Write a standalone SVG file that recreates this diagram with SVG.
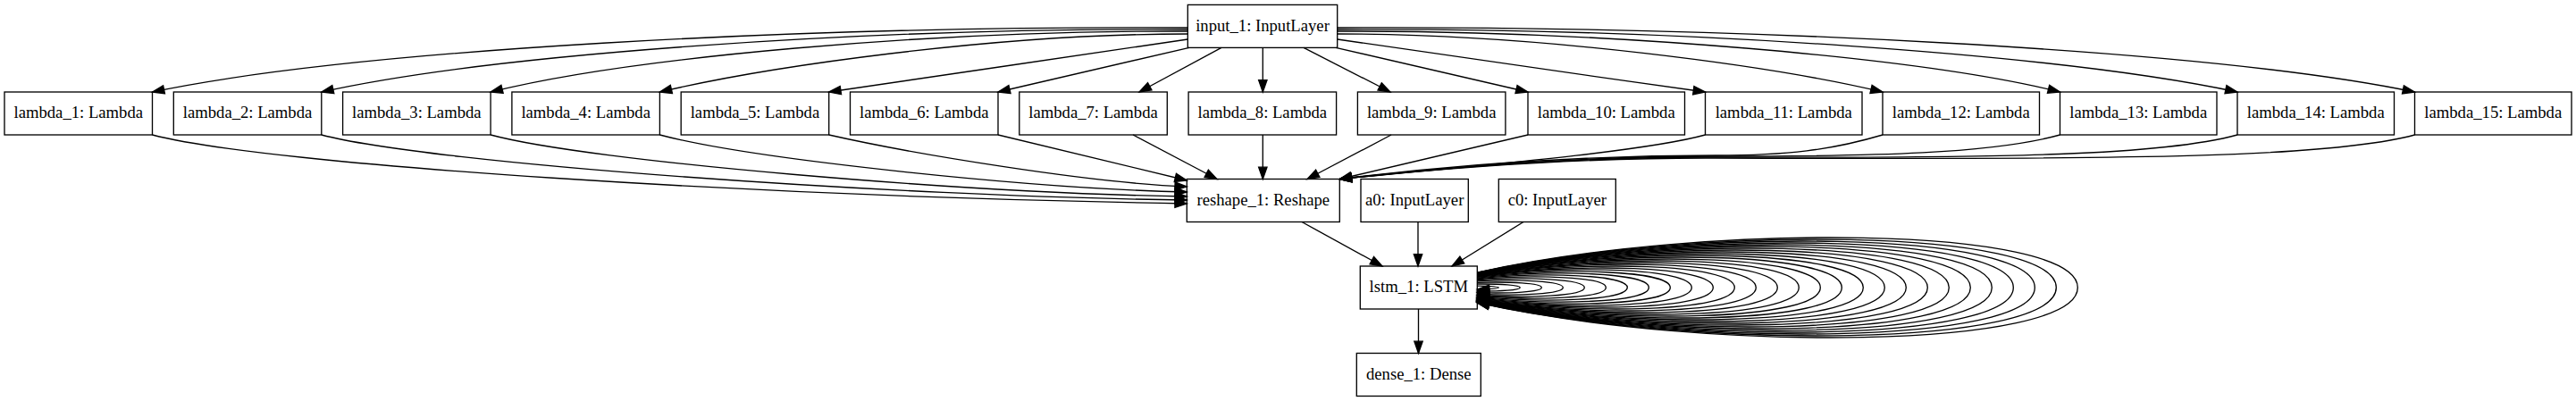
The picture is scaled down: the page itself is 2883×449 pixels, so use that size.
<svg xmlns="http://www.w3.org/2000/svg" width="2883" height="449" viewBox="0 0 2883 449">
<style>
.n rect{fill:#fff;stroke:#000;stroke-width:1.33}
.n text{font-family:"Liberation Serif","Times New Roman",serif;font-size:18.67px;text-anchor:middle;fill:#000}
.e path{fill:none;stroke:#000;stroke-width:1.33;marker-end:url(#a)}
</style>
<defs>
<marker id="a" viewBox="-1 -1 15.33 11.33" refX="13.33" refY="4.67" markerWidth="15.33" markerHeight="11.33" markerUnits="userSpaceOnUse" orient="auto" overflow="visible"><path d="M0,0 L13.33,4.67 L0,9.33 Z" fill="#000" stroke="#000" stroke-width="1.33"/></marker>
</defs>
<rect x="0" y="0" width="2883" height="449" fill="#fff"/>
<g id="nodes">
<g id="input_1" class="n"><rect x="1329.3" y="5.4" width="167.4" height="48"/><text x="1413" y="34.5">input_1: InputLayer</text></g>
<g id="lambda_1" class="n"><rect x="5" y="103" width="165.5" height="48"/><text x="87.75" y="132.1">lambda_1: Lambda</text></g>
<g id="lambda_2" class="n"><rect x="194.3" y="103" width="165.5" height="48"/><text x="277.05" y="132.1">lambda_2: Lambda</text></g>
<g id="lambda_3" class="n"><rect x="383.6" y="103" width="165.5" height="48"/><text x="466.35" y="132.1">lambda_3: Lambda</text></g>
<g id="lambda_4" class="n"><rect x="572.9" y="103" width="165.5" height="48"/><text x="655.65" y="132.1">lambda_4: Lambda</text></g>
<g id="lambda_5" class="n"><rect x="762.2" y="103" width="165.5" height="48"/><text x="844.95" y="132.1">lambda_5: Lambda</text></g>
<g id="lambda_6" class="n"><rect x="951.5" y="103" width="165.5" height="48"/><text x="1034.25" y="132.1">lambda_6: Lambda</text></g>
<g id="lambda_7" class="n"><rect x="1140.8" y="103" width="165.5" height="48"/><text x="1223.55" y="132.1">lambda_7: Lambda</text></g>
<g id="lambda_8" class="n"><rect x="1330.1" y="103" width="165.5" height="48"/><text x="1412.85" y="132.1">lambda_8: Lambda</text></g>
<g id="lambda_9" class="n"><rect x="1519.4" y="103" width="165.5" height="48"/><text x="1602.15" y="132.1">lambda_9: Lambda</text></g>
<g id="lambda_10" class="n"><rect x="1710" y="103" width="175.5" height="48"/><text x="1797.75" y="132.1">lambda_10: Lambda</text></g>
<g id="lambda_11" class="n"><rect x="1908.5" y="103" width="175.5" height="48"/><text x="1996.25" y="132.1">lambda_11: Lambda</text></g>
<g id="lambda_12" class="n"><rect x="2107" y="103" width="175.5" height="48"/><text x="2194.75" y="132.1">lambda_12: Lambda</text></g>
<g id="lambda_13" class="n"><rect x="2305.5" y="103" width="175.5" height="48"/><text x="2393.25" y="132.1">lambda_13: Lambda</text></g>
<g id="lambda_14" class="n"><rect x="2504" y="103" width="175.5" height="48"/><text x="2591.75" y="132.1">lambda_14: Lambda</text></g>
<g id="lambda_15" class="n"><rect x="2702.5" y="103" width="175.5" height="48"/><text x="2790.25" y="132.1">lambda_15: Lambda</text></g>
<g id="reshape_1" class="n"><rect x="1328.3" y="200.5" width="171" height="48"/><text x="1413.8" y="229.6">reshape_1: Reshape</text></g>
<g id="a0" class="n"><rect x="1523" y="200.5" width="120.3" height="48"/><text x="1583.2" y="229.6">a0: InputLayer</text></g>
<g id="c0" class="n"><rect x="1677.3" y="200.5" width="131" height="48"/><text x="1742.8" y="229.6">c0: InputLayer</text></g>
<g id="lstm_1" class="n"><rect x="1522.3" y="298" width="131" height="48"/><text x="1587.8" y="327.1">lstm_1: LSTM</text></g>
<g id="dense_1" class="n"><rect x="1518.3" y="395.5" width="139" height="48"/><text x="1587.8" y="424.6">dense_1: Dense</text></g>
</g>
<g id="connectors" class="e">
<path d="M1329.3,31 C900,29 400,55 170.5,103"/>
<path d="M1329.3,33 C971,31 554,60 359.8,103"/>
<path d="M1329.3,35 C1041,34 706,64 549.1,103"/>
<path d="M1329.3,38 C1111,38 857,75 738.4,103"/>
<path d="M1329.3,44 C1195.5,63.7 1061.5,83.3 927.7,103"/>
<path d="M1331,53.3 L1117,103"/>
<path d="M1367,53.3 L1275,103"/>
<path d="M1413.3,53.3 L1413.3,103"/>
<path d="M1459,53.3 L1556,103"/>
<path d="M1495,53.3 L1710,103"/>
<path d="M1496.7,44 C1630,63 1770,84 1908.5,103"/>
<path d="M1496.7,38 C1723,38 1985,74 2107,103"/>
<path d="M1496.7,35 C1795,34 2149,64 2305.5,103"/>
<path d="M1496.7,33 C1870,31 2303,60 2504,103"/>
<path d="M1496.7,31 C1942,29 2472,55 2702.5,103"/>
<path d="M170.5,151 C300,185 850,220 1328.3,228"/>
<path d="M359.8,151 C480,183 1000,220 1328.3,224"/>
<path d="M549.1,151 C660,181 1080,216 1328.3,220"/>
<path d="M738.4,151 C840,178 1150,211 1328.3,215"/>
<path d="M927.7,151 C1020,172 1220,205 1328.3,209"/>
<path d="M1117,151 L1328.3,202"/>
<path d="M1268,151 L1362,200.5"/>
<path d="M1413.3,151 L1413.3,200.5"/>
<path d="M1557,151 L1463,200.5"/>
<path d="M1710,151 L1499.3,200.5"/>
<path d="M1908.5,151 C1840,170 1650,186 1499.3,200.5"/>
<path d="M2107,151 C2050,168 2000,174 1920,174 C1750,174 1600,188 1499.3,200.5"/>
<path d="M2305.5,151 C2230,172 2100,175 1920,175 C1750,175 1600,189 1499.3,200.5"/>
<path d="M2504,151 C2420,174 2250,177 1920,176 C1750,175.5 1600,189.5 1499.3,200.5"/>
<path d="M2702.5,151 C2610,176 2400,179 1920,177 C1750,176.3 1600,190 1499.3,200.5"/>
<path d="M1457,248.5 L1547,298"/>
<path d="M1587,248.5 L1587,298"/>
<path d="M1705,248.5 L1625,298"/>
<path d="M1587.5,346 L1587.5,395.5"/>
<path d="M1653.3,320.06 C1667.2,320.26 1677.3,320.9 1677.3,322 C1677.3,323.1 1667.2,323.74 1653.3,323.94"/>
<path d="M1653.3,318.02 C1679.4,317.81 1701.3,319.13 1701.3,322 C1701.3,324.87 1679.4,326.19 1653.3,325.98"/>
<path d="M1653.3,316.32 C1690.65,315.19 1725.3,317.08 1725.3,322 C1725.3,326.92 1690.65,328.81 1653.3,327.68"/>
<path d="M1653.3,314.9 C1701.26,312.51 1749.3,314.88 1749.3,322 C1749.3,329.12 1701.26,331.49 1653.3,329.1"/>
<path d="M1653.3,313.72 C1711.42,309.81 1773.3,312.57 1773.3,322 C1773.3,331.43 1711.42,334.19 1653.3,330.28"/>
<path d="M1653.3,312.72 C1721.23,307.1 1797.3,310.19 1797.3,322 C1797.3,333.81 1721.23,336.9 1653.3,331.28"/>
<path d="M1653.3,311.86 C1730.8,304.39 1821.3,307.77 1821.3,322 C1821.3,336.23 1730.8,339.61 1653.3,332.14"/>
<path d="M1653.3,311.11 C1740.16,301.68 1845.3,305.31 1845.3,322 C1845.3,338.69 1740.16,342.32 1653.3,332.89"/>
<path d="M1653.3,310.45 C1749.38,298.97 1869.3,302.81 1869.3,322 C1869.3,341.19 1749.38,345.03 1653.3,333.55"/>
<path d="M1653.3,309.88 C1758.42,296.26 1893.3,300.3 1893.3,322 C1893.3,343.7 1758.42,347.74 1653.3,334.12"/>
<path d="M1653.3,309.36 C1767.35,293.55 1917.3,297.77 1917.3,322 C1917.3,346.23 1767.35,350.45 1653.3,334.64"/>
<path d="M1653.3,308.9 C1776.19,290.85 1941.3,295.22 1941.3,322 C1941.3,348.78 1776.19,353.15 1653.3,335.1"/>
<path d="M1653.3,308.49 C1784.97,288.15 1965.3,292.65 1965.3,322 C1965.3,351.35 1784.97,355.85 1653.3,335.51"/>
<path d="M1653.3,308.11 C1793.65,285.46 1989.3,290.08 1989.3,322 C1989.3,353.92 1793.65,358.54 1653.3,335.89"/>
<path d="M1653.3,307.76 C1802.34,282.76 2013.3,287.5 2013.3,322 C2013.3,356.5 1802.34,361.24 1653.3,336.24"/>
<path d="M1653.3,307.45 C1810.89,280.06 2037.3,284.91 2037.3,322 C2037.3,359.09 1810.89,363.94 1653.3,336.55"/>
<path d="M1653.3,307.16 C1819.48,277.37 2061.3,282.32 2061.3,322 C2061.3,361.68 1819.48,366.63 1653.3,336.84"/>
<path d="M1653.3,306.88 C1827.99,274.68 2085.3,279.72 2085.3,322 C2085.3,364.28 1827.99,369.32 1653.3,337.12"/>
<path d="M1653.3,306.64 C1836.45,271.99 2109.3,277.11 2109.3,322 C2109.3,366.89 1836.45,372.01 1653.3,337.36"/>
<path d="M1653.3,306.41 C1844.84,269.31 2133.3,274.5 2133.3,322 C2133.3,369.5 1844.84,374.69 1653.3,337.59"/>
<path d="M1653.3,306.19 C1853.3,266.62 2157.3,271.89 2157.3,322 C2157.3,372.11 1853.3,377.38 1653.3,337.81"/>
<path d="M1653.3,305.99 C1861.7,263.93 2181.3,269.27 2181.3,322 C2181.3,374.73 1861.7,380.07 1653.3,338.01"/>
<path d="M1653.3,305.81 C1870,261.25 2205.3,266.65 2205.3,322 C2205.3,377.35 1870,382.75 1653.3,338.19"/>
<path d="M1653.3,305.63 C1878.4,258.57 2229.3,264.02 2229.3,322 C2229.3,379.98 1878.4,385.43 1653.3,338.37"/>
<path d="M1653.3,305.47 C1886.6,255.88 2253.3,261.39 2253.3,322 C2253.3,382.61 1886.6,388.12 1653.3,338.53"/>
<path d="M1653.3,305.32 C1894.9,253.2 2277.3,258.76 2277.3,322 C2277.3,385.24 1894.9,390.8 1653.3,338.68"/>
<path d="M1653.3,305.17 C1903.2,250.52 2301.3,256.13 2301.3,322 C2301.3,387.87 1903.2,393.48 1653.3,338.83"/>
<path d="M1653.3,305.03 C1911.5,247.84 2325.3,253.5 2325.3,322 C2325.3,390.5 1911.5,396.16 1653.3,338.97"/>
</g>
</svg>
